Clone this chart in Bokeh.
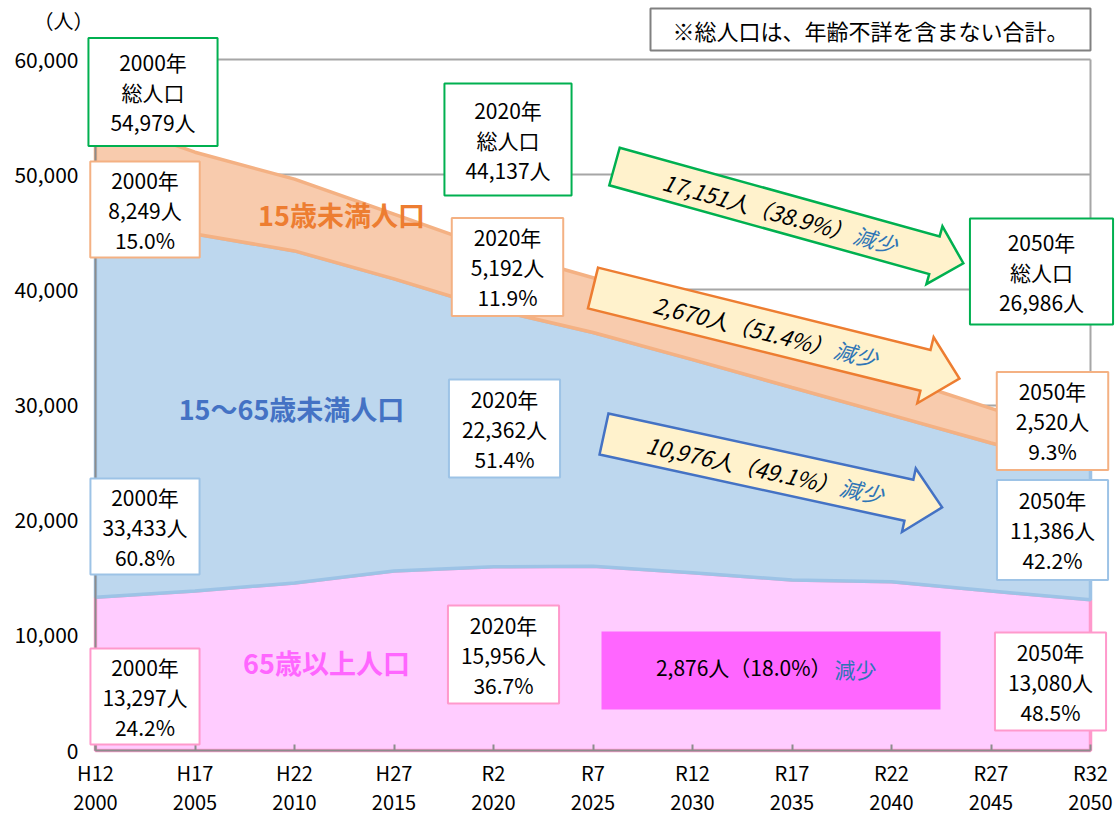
import math
import numpy as np
from bokeh.plotting import figure
from bokeh.models import Range1d, FixedTicker, Label, NumeralTickFormatter
from bokeh.embed import file_html
from bokeh.resources import INLINE
from bokeh.core.properties import value

# ---------------- data ----------------
years = [2000, 2005, 2010, 2015, 2020, 2025, 2030, 2035, 2040, 2045, 2050]
era_labels = ["H12", "H17", "H22", "H27", "R2", "R7", "R12", "R17", "R22", "R27", "R32"]
pop_65_over = [13297, 13850, 14550, 15590, 15956, 16000, 15440, 14800, 14660, 13850, 13080]
pop_15_64 = [33433, 31000, 28830, 25360, 22362, 20300, 18500, 16720, 14460, 12850, 11386]
pop_under_15 = [8249, 7100, 6230, 5630, 5192, 4750, 4250, 3800, 3400, 3000, 2520]
total_years = [2000, 2020, 2050]
total_pop = [54979, 44137, 26986]
# 2020 -> 2050 decrease: total, under 15, 15-64, 65+
decrease_people = [17151, 2670, 10976, 2876]
decrease_pct = [38.9, 51.4, 49.1, 18.0]
y_ticks = [0, 10000, 20000, 30000, 40000, 50000, 60000]
series_names = ["65歳以上人口", "15～65歳未満人口", "15歳未満人口"]
note_text = "※総人口は、年齢不詳を含まない合計。"
unit_text = "（人）"

FONT = "Noto Sans CJK JP"
GREEN = "#00B050"
C_PINK_FILL, C_PINK_LINE = "#FFCCFF", "#FF99CC"
C_BLUE_FILL, C_BLUE_LINE = "#BDD7EE", "#9DC3E6"
C_OR_FILL, C_OR_LINE = "#F8CBAD", "#F4B183"
DEC_BLUE = "#2E75B6"
GRAY = "#A6A6A6"

# plot-area position on the page (pixels) -> used to place annotations
PX0, PX1, PY0, PY1 = 95, 1090, 59, 750
# the (invisible) frame covers the whole canvas so that boxes and labels may overhang the plot area
CW, CH = 1115, 816


def X(px):
    return years[0] + (px - PX0) * (years[-1] - years[0]) / (PX1 - PX0)


def Y(py):
    return (PY1 - py) * y_ticks[-1] / (PY1 - PY0)


p = figure(frame_width=CW, frame_height=CH,
           min_border_left=0, min_border_top=0, min_border_right=0, min_border_bottom=0,
           x_range=Range1d(X(0), X(CW)), y_range=Range1d(Y(CH), Y(0)),
           output_backend="svg", toolbar_location=None)
p.background_fill_color = "white"
p.border_fill_color = "white"
p.outline_line_color = None

# axes (drawn at the plot-area edges)
p.xaxis.fixed_location = y_ticks[0]
p.xaxis.ticker = FixedTicker(ticks=years)
p.xaxis.bounds = (years[0], years[-1])
p.xaxis.major_label_overrides = {yr: f"{e}\n{yr}" for yr, e in zip(years, era_labels)}
p.xaxis.major_label_text_font = FONT
p.xaxis.major_label_text_font_size = "20px"
p.xaxis.major_label_text_color = "#000000"
p.xaxis.major_label_text_line_height = 1.0
p.xaxis.major_label_standoff = 7
p.xaxis.axis_line_color = "#8C8C8C"
p.xaxis.axis_line_width = 2
p.xaxis.major_tick_line_color = "#8C8C8C"
p.xaxis.major_tick_line_width = 2
p.xaxis.major_tick_in = 6
p.xaxis.major_tick_out = 0
p.xaxis.minor_tick_line_color = None

p.yaxis.fixed_location = years[0]
p.yaxis.bounds = (y_ticks[0], y_ticks[-1])
p.yaxis.ticker = FixedTicker(ticks=y_ticks)
p.yaxis.formatter = NumeralTickFormatter(format="0,0")
p.yaxis.major_label_text_font = FONT
p.yaxis.major_label_text_font_size = "21px"
p.yaxis.major_label_text_color = "#000000"
p.yaxis.major_label_standoff = 17
p.yaxis.axis_line_color = "#8C8C8C"
p.yaxis.axis_line_width = 2
p.yaxis.major_tick_line_color = None
p.yaxis.major_tick_in = 0
p.yaxis.major_tick_out = 0
p.yaxis.minor_tick_line_color = None

p.xgrid.visible = False
p.ygrid.ticker = FixedTicker(ticks=y_ticks)
p.ygrid.grid_line_color = GRAY
p.ygrid.grid_line_width = 2
try:
    p.ygrid.cross_bounds = (years[0], years[-1])
except Exception:
    # fallback: horizontal grid lines drawn over the plot area only
    p.ygrid.visible = False
    p.segment(x0=[years[0]] * len(y_ticks), y0=y_ticks, x1=[years[-1]] * len(y_ticks), y1=y_ticks,
              line_color=GRAY, line_width=2)

# right border of the plot area
p.segment(x0=[years[-1]], y0=[y_ticks[0]], x1=[years[-1]], y1=[y_ticks[-1]], line_color=GRAY, line_width=2)

# ---------------- stacked areas ----------------
c1 = np.array(pop_65_over)
c2 = c1 + np.array(pop_15_64)
c3 = c2 + np.array(pop_under_15)
xs = list(years) + list(years[::-1])
p.patch(xs, list(c1) + [0] * len(years), fill_color=C_PINK_FILL, line_color=C_PINK_LINE, line_width=3.5)
p.patch(xs, list(c2) + list(c1[::-1]), fill_color=C_BLUE_FILL, line_color=C_BLUE_LINE, line_width=3.5)
p.patch(xs, list(c3) + list(c2[::-1]), fill_color=C_OR_FILL, line_color=C_OR_LINE, line_width=3.5)

# ---------------- series names ----------------
for name, col, (cx, cy) in zip(series_names, ["#FF66FF", "#4472C4", "#ED7D31"],
                               [(326, 662), (291, 408), (341, 214)]):
    p.text(x=[X(cx)], y=[Y(cy)], text=[name], text_font=value(FONT), text_font_size="27px",
           text_font_style="bold", text_color=col, text_align="center", text_baseline="middle")


# ---------------- decrease arrows ----------------
def arrow(cx, cy, ang, L, hw, hl, hh, color):
    ca, sa = math.cos(math.radians(ang)), math.sin(math.radians(ang))
    loc = [(0, -hw), (L - hl, -hw), (L - hl, -hh), (L, 0), (L - hl, hh), (L - hl, hw), (0, hw)]
    ax = [X(cx + u * ca - v * sa) for u, v in loc]
    ay = [Y(cy + u * sa + v * ca) for u, v in loc]
    p.patch(ax, ay, fill_color="#FFF2CC", line_color=color, line_width=2.5, line_join="miter")


def two_texts(cx, cy, ang, ub, black, italic=True, fs="22px"):
    ca, sa = math.cos(math.radians(ang)), math.sin(math.radians(ang))
    style = "italic" if italic else "normal"
    bx, by = cx + (ub + 4) * ca, cy + (ub + 4) * sa
    lx, ly = cx + (ub + 6) * ca, cy + (ub + 6) * sa
    p.text(x=[X(bx)], y=[Y(by)], text=[black], angle=-math.radians(ang), text_font=value(FONT),
           text_font_size=fs, text_font_style=style, text_color="#000000",
           text_align="right", text_baseline="middle")
    p.text(x=[X(lx)], y=[Y(ly)], text=["減少"], angle=-math.radians(ang), text_font=value(FONT),
           text_font_size=fs, text_font_style=style, text_color=DEC_BLUE,
           text_align="left", text_baseline="middle")


def dec(k):
    return f"{decrease_people[k]:,}人（{decrease_pct[k]:.1f}%）"


arrow(614, 166, 15.5, 362, 19.5, 30, 30, GREEN)
two_texts(614, 166, 15.5, 243, dec(0))
arrow(592.5, 287.5, 13.9, 377.5, 21, 35, 34, "#ED7D31")
two_texts(592.5, 287.5, 13.9, 243, dec(1))
arrow(603.5, 433.5, 12.25, 346, 21, 34, 32.5, "#4472C4")
two_texts(603.5, 433.5, 12.25, 236, dec(2))

# 65+ decrease box
p.quad(left=[X(601)], right=[X(940)], top=[Y(631)], bottom=[Y(709)], fill_color="#FF66FF", line_color=None)
p.text(x=[X(831)], y=[Y(666)], text=[dec(3)], text_font=value(FONT),
       text_font_size="21px", text_color="#000000", text_align="right", text_baseline="middle")
p.text(x=[X(834)], y=[Y(668)], text=["減少"], text_font=value(FONT),
       text_font_size="21px", text_color=DEC_BLUE, text_align="left", text_baseline="middle")


# ---------------- value boxes ----------------
def text_w(s, fs):
    w = 0
    for ch in s:
        if ch.isdigit():
            w += 0.555
        elif ch in ",.":
            w += 0.25
        elif ch == "%":
            w += 0.85
        else:
            w += 1.0
    return w * fs


def box(x0, x1, y0, y1, color, lines, fs=21, lh=1.0):
    tw = max(text_w(s, fs) for s in lines)
    th = len(lines) * fs * 1.45 * lh
    pl = max(0, int(round(((x1 - x0) - tw) / 2)))
    pt = max(0, int(round(((y1 - y0) - th) / 2)))
    p.add_layout(Label(x=X((x0 + x1) / 2), y=Y((y0 + y1) / 2), text="\n".join(lines),
                       text_font=FONT, text_font_size=f"{fs}px", text_color="#000000",
                       text_align="center", text_baseline="middle", text_line_height=lh,
                       padding=dict(left=pl, right=pl, top=pt, bottom=pt),
                       border_line_color=color, border_line_width=2,
                       background_fill_color="white", background_fill_alpha=1.0))


def pct(i, arr):
    tot = pop_65_over[i] + pop_15_64[i] + pop_under_15[i]
    return f"{arr[i] / tot * 100:.1f}%"


geo = {
    2000: [(88, 217, 37, 146), (90, 199, 160, 258), (90, 199, 477, 575), (90, 199, 647, 745)],
    2020: [(444, 571, 82, 196), (452, 562, 217, 316), (449, 559, 378, 478), (448, 558, 604, 704)],
    2050: [(970, 1112, 217, 325), (997, 1107, 371, 470), (997, 1107, 479, 580), (995, 1105, 631, 731)],
}
for k, yr in enumerate(total_years):
    i = years.index(yr)
    g = geo[yr]
    box(*g[0], GREEN, [f"{yr}年", "総人口", f"{total_pop[k]:,}人"])
    box(*g[1], C_OR_LINE, [f"{yr}年", f"{pop_under_15[i]:,}人", pct(i, pop_under_15)])
    box(*g[2], C_BLUE_LINE, [f"{yr}年", f"{pop_15_64[i]:,}人", pct(i, pop_15_64)])
    box(*g[3], C_PINK_LINE, [f"{yr}年", f"{pop_65_over[i]:,}人", pct(i, pop_65_over)])

# note + unit
nw = text_w(note_text, 22)
p.add_layout(Label(x=X(870), y=Y(29), text=note_text, text_font=FONT, text_font_size="22px",
                   text_color="#000000", text_align="center", text_baseline="middle",
                   padding=dict(left=int((440 - nw) / 2), right=int((440 - nw) / 2), top=5, bottom=5),
                   border_line_color="#808080", border_line_width=2,
                   background_fill_color="white"))
p.add_layout(Label(x=X(63), y=Y(20), text=unit_text, text_font=FONT, text_font_size="20px",
                   text_color="#000000", text_align="center", text_baseline="middle"))

open("out.html", "w").write(file_html(p, INLINE))
